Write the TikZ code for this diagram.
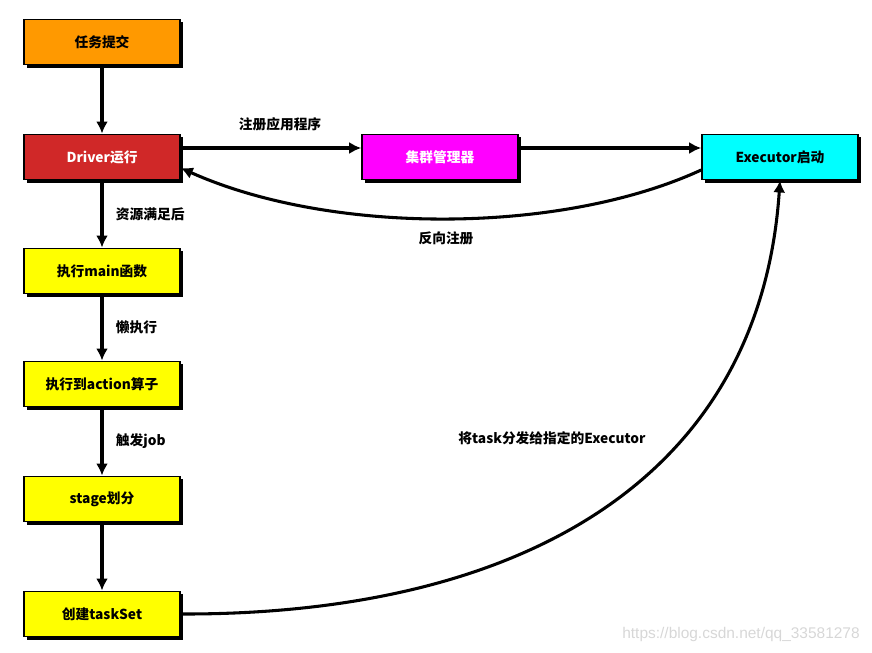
\documentclass[tikz,border=0pt]{standalone}
\usepackage{fontspec}
\newfontfamily\cjk{Noto Sans CJK SC}
\newfontfamily\wmfont{Liberation Sans}
\usetikzlibrary{arrows.meta,shadows}
\definecolor{naranja}{RGB}{255,153,0}
\definecolor{rojo}{RGB}{208,40,40}
\definecolor{magenta2}{RGB}{255,0,255}
\definecolor{cian}{RGB}{0,255,255}
\definecolor{amarillo}{RGB}{255,255,0}
\definecolor{marca}{RGB}{215,215,215}

\begin{document}
\begin{tikzpicture}[x=0.75pt,y=-0.75pt,
    caja/.style={draw,line width=1.2pt,minimum width=117pt,minimum height=34pt,
        font=\cjk\bfseries\fontsize{10.3}{12}\selectfont,
        drop shadow={shadow xshift=2.2pt,shadow yshift=-2.2pt,opacity=1,fill=black}},
    flecha/.style={line width=2.3pt,-{Latex[length=9pt,width=9pt]}},
    etiqueta/.style={font=\cjk\bfseries\fontsize{10.3}{12}\selectfont}]
    \useasboundingbox (0,0) rectangle (872,653);

    \node[caja,fill=naranja] (sub) at (102,42) {任务提交};
    \node[caja,fill=rojo,text=white] (drv) at (102,157) {Driver运行};
    \node[caja,fill=magenta2,text=white] (cm) at (440,157) {集群管理器};
    \node[caja,fill=cian] (exe) at (780,157) {Executor启动};
    \node[caja,fill=amarillo] (main) at (102,271) {执行main函数};
    \node[caja,fill=amarillo] (act) at (102,384) {执行到action算子};
    \node[caja,fill=amarillo] (stg) at (102,499) {stage划分};
    \node[caja,fill=amarillo] (ts) at (102,614) {创建taskSet};

    % columna izquierda
    \draw[flecha] (sub) -- (drv);
    \draw[flecha] (drv) -- (main) node[midway,right=6pt,etiqueta] {资源满足后};
    \draw[flecha] (main) -- (act) node[midway,right=6pt,etiqueta] {懒执行};
    \draw[flecha] (act) -- (stg) node[midway,right=6pt,etiqueta] {触发job};
    \draw[flecha] (stg) -- (ts);

    % registro
    \draw[flecha] (drv.east |- 0,148) -- (cm.west |- 0,148)
        node[pos=0.55,above=8pt,etiqueta] {注册应用程序};
    \draw[flecha] (cm.east |- 0,148) -- (exe.west |- 0,148);
    \draw[flecha] (exe.west |- 0,170) .. controls (560,235) and (330,235) .. (drv.east |- 0,168);
    \node[etiqueta] (rev) at (446,238) {反向注册};

    % envio de tareas
    \draw[flecha] (ts.east) .. controls (520,615) and (760,480) .. (exe.south);
    \node[etiqueta] (env) at (552,438) {将task分发给指定的Executor};

    \node[font=\wmfont\fontsize{11.6}{13}\selectfont,text=marca] (wm) at (741,634) {https://blog.csdn.net/qq\_33581278};
\end{tikzpicture}
\end{document}
